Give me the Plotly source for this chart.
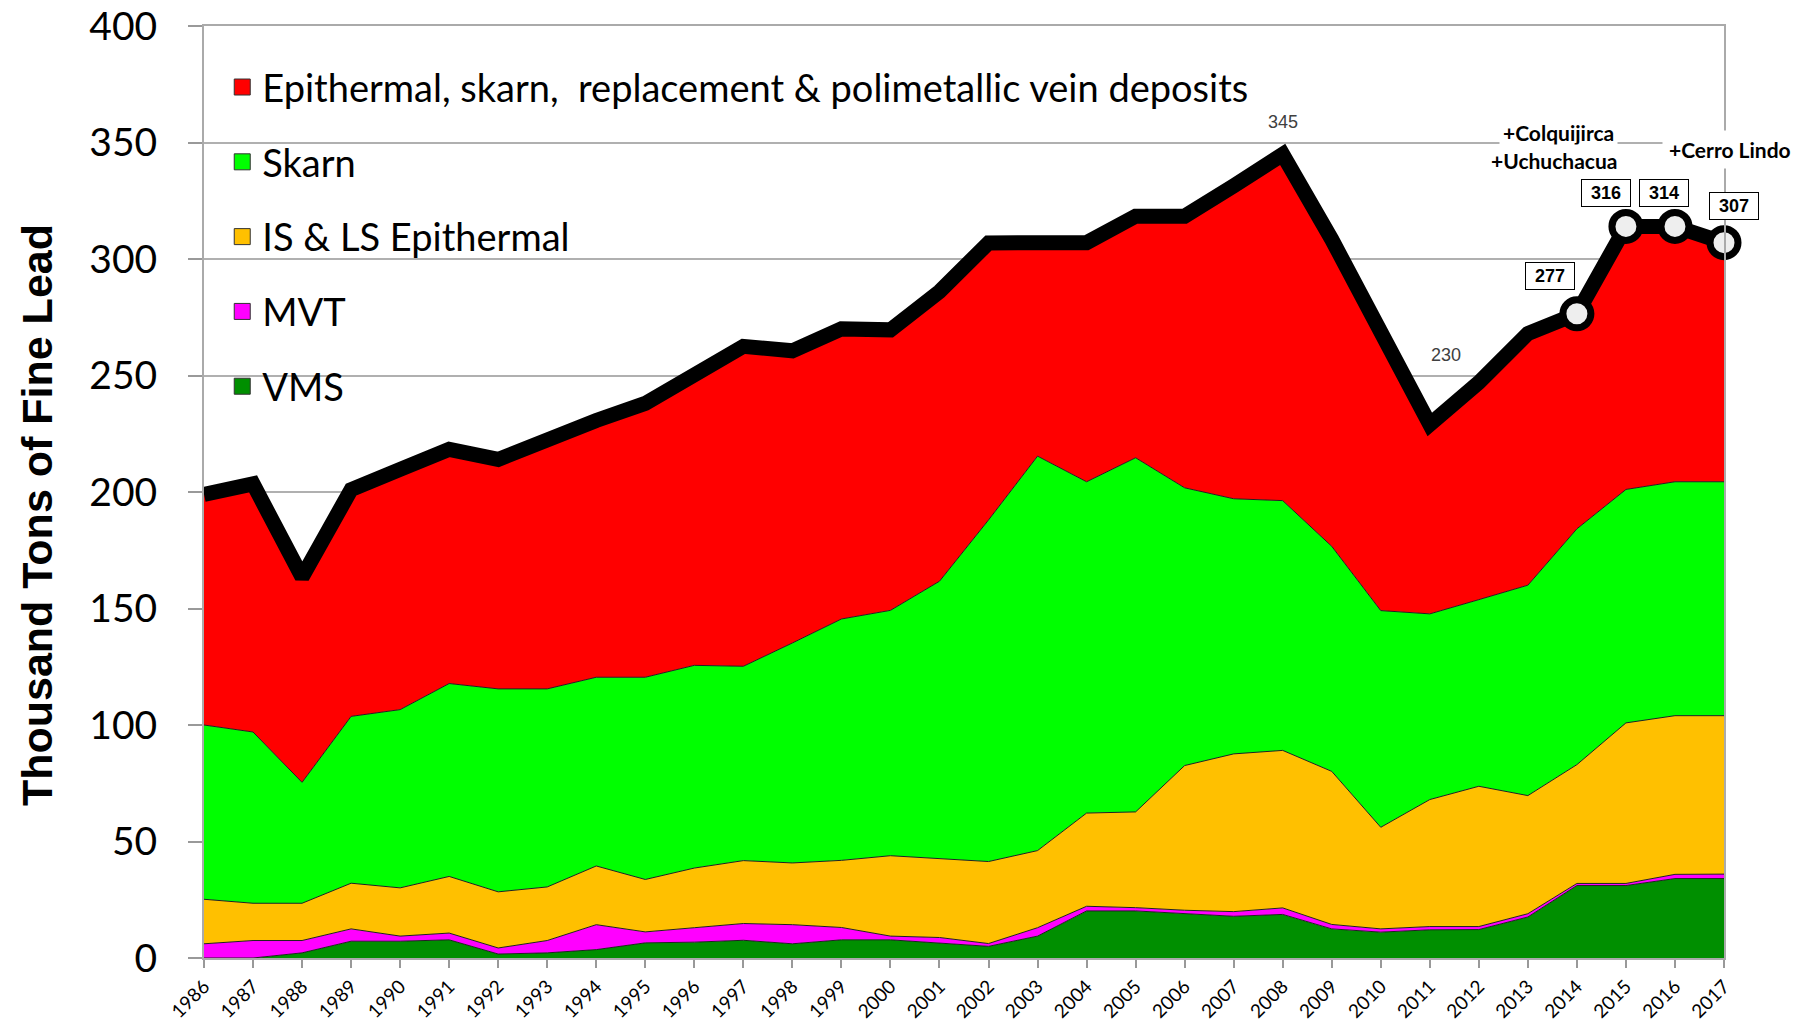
import plotly.graph_objects as go

years = list(range(1986, 2018))

vms = [0, 0, 2.2, 7.2, 7.2, 7.8, 1.7, 2.2, 3.6, 6.5, 6.8, 7.6, 6.1, 7.8, 7.8, 6.5,
       5.0, 9.4, 20.2, 20.2, 19.2, 17.9, 18.7, 12.5, 11.1, 12.1, 12.2, 17.6, 31.1, 31.1, 34.1, 34.1]
mvt = [6.1, 7.5, 5.3, 5.3, 2.2, 2.9, 2.6, 5.3, 10.7, 4.7, 6.2, 7.2, 8.2, 5.3, 1.6, 2.3,
       1.2, 3.6, 2.0, 1.4, 1.3, 2.0, 2.8, 1.9, 1.4, 1.4, 1.3, 1.4, 0.9, 0.9, 1.8, 1.9]
epithermal = [19.1, 16.0, 16.0, 19.6, 20.7, 24.3, 24.1, 23.0, 25.2, 22.5, 25.6, 27.0, 26.5, 28.8, 34.5, 34.0,
              35.2, 33.1, 40.0, 41.1, 62.1, 67.7, 67.6, 65.7, 43.6, 54.5, 60.2, 50.7, 51.0, 68.9, 68.1, 68.0]
skarn = [74.8, 73.5, 51.9, 71.6, 76.5, 82.8, 87.1, 85.0, 81.0, 86.8, 87.0, 83.4, 94.4, 103.6, 105.3, 118.9,
         146.6, 169.3, 142.2, 152.0, 119.2, 109.5, 107.2, 96.6, 93.0, 79.7, 80.1, 90.3, 101.2, 100.2, 100.4, 100.4]
polymetallic = [99.0, 106.5, 88.1, 97.3, 103.1, 100.5, 98.5, 107.5, 110.2, 117.5, 125.3, 137.3, 125.4, 124.5, 120.4, 124.3,
                118.9, 91.6, 102.6, 103.7, 116.6, 134.3, 148.6, 131.7, 119.8, 81.3, 93.2, 108.0, 92.3, 112.9, 109.6, 102.6]

series_names = ["VMS", "MVT", "IS & LS Epithermal", "Skarn",
                "Epithermal, skarn,\u00a0 replacement & polimetallic vein deposits"]
series_colors = ["#008f00", "#ff00ff", "#ffc000", "#00ff00", "#ff0000"]
series_values = [vms, mvt, epithermal, skarn, polymetallic]

marked_years = [2014, 2015, 2016, 2017]
marked_labels = ["277", "316", "314", "307"]
plain_labels = ["345", "230"]
y_title = "Thousand Tons of Fine Lead"

totals = [round(sum(v), 1) for v in zip(*series_values)]

fig = go.Figure()

for name, color, vals in zip(series_names, series_colors, series_values):
    fig.add_trace(go.Scatter(
        x=years, y=vals, stackgroup="one", mode="lines",
        line=dict(color="#202020", width=1), fillcolor=color,
        name=name, showlegend=False, hoverinfo="skip"))

# total line
fig.add_trace(go.Scatter(
    x=years, y=totals, mode="lines",
    line=dict(color="black", width=15), showlegend=False, hoverinfo="skip"))

# highlighted markers
mk_y = [totals[years.index(y)] for y in marked_years]
fig.add_trace(go.Scatter(
    x=marked_years, y=mk_y, mode="markers", cliponaxis=False,
    marker=dict(size=28, color="#eeeeee", line=dict(color="black", width=7)),
    showlegend=False, hoverinfo="skip"))

# legend entries (top to bottom)
for name, color in reversed(list(zip(series_names, series_colors))):
    fig.add_trace(go.Scatter(
        x=[None], y=[None], mode="markers", name=name, legendgroup=name,
        marker=dict(symbol="square", size=16, color=color,
                    line=dict(color="#333333", width=1))))

# plain value labels
fig.add_annotation(x=2008.0, y=358.8, text=plain_labels[0], showarrow=False,
                   font=dict(family="Liberation Sans", size=18, color="#404040"))
fig.add_annotation(x=2011.32, y=258.6, text=plain_labels[1], showarrow=False,
                   font=dict(family="Liberation Sans", size=18, color="#404040"))

# boxed value labels (x, xshift px, y)
box_pos = [(2013.46, 0, 292.6), (2014.6, 0, 328.3), (2015.78, 0, 328.3), (2017.0, 10, 322.9)]
for (bx, sh, by), txt in zip(box_pos, marked_labels):
    fig.add_annotation(x=bx, y=by, xshift=sh, text="<b>" + txt + "</b>", showarrow=False,
                       font=dict(family="Liberation Sans", size=18, color="black"),
                       bgcolor="white", bordercolor="black", borderwidth=1,
                       borderpad=3, width=42, height=20)

fig.add_annotation(x=2013.62, y=354.2, text="<b>+Colquijirca</b>", showarrow=False,
                   font=dict(family="Lato", size=21, color="black"),
                   bgcolor="white", borderpad=3)
fig.add_annotation(x=2013.53, y=342.3, text="<b>+Uchuchacua</b>", showarrow=False,
                   font=dict(family="Lato", size=21, color="black"),
                   bgcolor="white", borderpad=3)
fig.add_annotation(x=2017.0, xshift=6, y=347.0, text="<b>+Cerro Lindo</b>", showarrow=False,
                   font=dict(family="Lato", size=21, color="black"),
                   bgcolor="white", borderpad=6)

# y-axis title
fig.add_annotation(xref="paper", yref="paper", x=-0.11, y=0.475, textangle=-90,
                   xanchor="center", yanchor="middle",
                   text="<b>" + y_title + "</b>", showarrow=False,
                   font=dict(family="Liberation Sans", size=43, color="black"))

fig.update_layout(
    width=1806, height=1032,
    margin=dict(l=196, r=90, t=18, b=82, autoexpand=False),
    paper_bgcolor="white", plot_bgcolor="white",
    showlegend=True,
    legend=dict(x=0.012, y=0.968, xanchor="left", yanchor="top",
                bgcolor="rgba(0,0,0,0)", tracegroupgap=22.4,
                font=dict(family="Lato", size=38, color="black")),
    xaxis=dict(range=[1986, 2017], tickmode="array", tickvals=years,
               ticktext=[str(y) for y in years], tickangle=-45, automargin=False,
               tickfont=dict(family="Lato", size=19, color="black"),
               ticks="outside", ticklen=8, tickcolor="#999999", tickwidth=2,
               showline=True, linecolor="#aaaaaa", linewidth=2, mirror=True,
               showgrid=False, zeroline=False, ticklabeloverflow="allow"),
    yaxis=dict(range=[0, 400], dtick=50, automargin=False,
               tickfont=dict(family="Lato", size=39, color="black"),
               ticks="outside", ticklen=14, tickcolor="#999999", tickwidth=2,
               ticklabelstandoff=23, ticklabeloverflow="allow",
               showline=True, linecolor="#aaaaaa", linewidth=2, mirror=True,
               showgrid=True, gridcolor="#b0b0b0", gridwidth=1.5, zeroline=False),
)

fig.write_html("out.html")
